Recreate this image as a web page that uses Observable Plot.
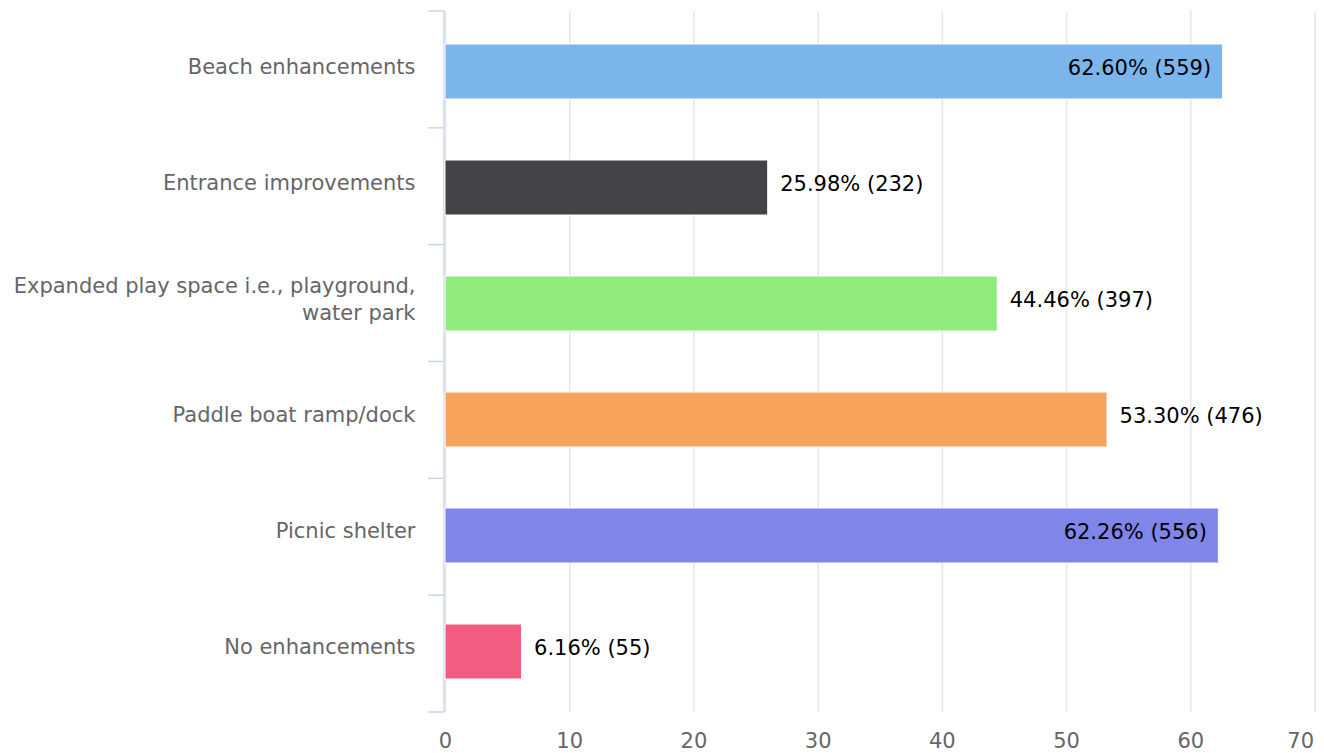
<!DOCTYPE html>
<html>
<head>
<meta charset="utf-8">
<script src="https://cdn.jsdelivr.net/npm/d3@7"></script>
<script src="https://cdn.jsdelivr.net/npm/@observablehq/plot@0.6"></script>
<style>
  html, body { margin: 0; padding: 0; background: #ffffff; }
  #chart { width: 1324px; height: 753px; }
</style>
</head>
<body>
<div id="chart"></div>
<script>
const categories = [
  "Beach enhancements",
  "Entrance improvements",
  "Expanded play space i.e., playground,\nwater park",
  "Paddle boat ramp/dock",
  "Picnic shelter",
  "No enhancements"
];
const percents = [62.60, 25.98, 44.46, 53.30, 62.26, 6.16];
const counts = [559, 232, 397, 476, 556, 55];
const colors = ["#7cb5ec", "#434348", "#90ed7d", "#f7a35c", "#8085e9", "#f15c80"];
const xTicks = [0, 10, 20, 30, 40, 50, 60, 70];

const data = categories.map((cat, i) => ({
  cat, pct: percents[i], count: counts[i], color: colors[i],
  label: percents[i].toFixed(2) + "% (" + counts[i] + ")"
}));

const W = 1324, H = 753;
const mL = 445, mR = 9.5, mT = 11, mB = 41;
const font = "'DejaVu Sans', Verdana, sans-serif";

// band boundary ticks + axis line on the left
function bandTicks(index, scales, values, dims) {
  const g = d3.create("svg:g");
  const n = categories.length;
  const step = (dims.height - dims.marginTop - dims.marginBottom) / n;
  const x0 = dims.marginLeft - 1;
  g.append("line")
    .attr("x1", x0).attr("x2", x0)
    .attr("y1", dims.marginTop).attr("y2", dims.height - dims.marginBottom)
    .attr("stroke", "#ccd6eb").attr("stroke-width", 1.5);
  for (let i = 0; i <= n; i++) {
    const yy = dims.marginTop + i * step;
    g.append("line")
      .attr("x1", x0 - 16).attr("x2", x0)
      .attr("y1", yy).attr("y2", yy)
      .attr("stroke", "#ccd6eb").attr("stroke-width", 1.5);
  }
  return g.node();
}

const fitsOutside = d => d.pct < 56;

const chart = Plot.plot({
  width: W,
  height: H,
  marginLeft: mL,
  marginRight: mR,
  marginTop: mT,
  marginBottom: mB,
  style: { fontFamily: font, background: "#ffffff" },
  x: { domain: [0, 70], axis: null },
  y: { domain: categories, axis: null, paddingInner: 0.53, paddingOuter: 0.265 },
  color: { type: "identity" },
  marks: [
    Plot.ruleX(xTicks, { x: d => d, stroke: "#e6e6e6", strokeWidth: 1.5 }),
    bandTicks,
    Plot.barX(data, { x: "pct", y: "cat", fill: "color", stroke: "#ffffff", strokeWidth: 1 }),
    Plot.text(data.filter(fitsOutside), {
      x: "pct", y: "cat", text: "label", textAnchor: "start", dx: 12, dy: -4,
      fill: "#000000", fontSize: 21
    }),
    Plot.text(data.filter(d => !fitsOutside(d)), {
      x: "pct", y: "cat", text: "label", textAnchor: "end", dx: -12, dy: -4,
      fill: "#000000", fontSize: 21
    }),
    Plot.text(data, {
      x: 0, y: "cat", text: "cat", textAnchor: "end", dx: -30, dy: -6,
      fill: "#666666", fontSize: 21, lineHeight: 1.25
    }),
    Plot.text(xTicks.filter(d => d < 70), {
      x: d => d, frameAnchor: "bottom", dy: 35, text: d => String(d),
      textAnchor: "middle", fill: "#666666", fontSize: 21
    }),
    Plot.text(xTicks.filter(d => d >= 70), {
      x: d => d, frameAnchor: "bottom", dy: 35, text: d => String(d),
      textAnchor: "end", dx: -1, fill: "#666666", fontSize: 21
    })
  ]
});

document.getElementById("chart").appendChild(chart);
</script>
</body>
</html>
